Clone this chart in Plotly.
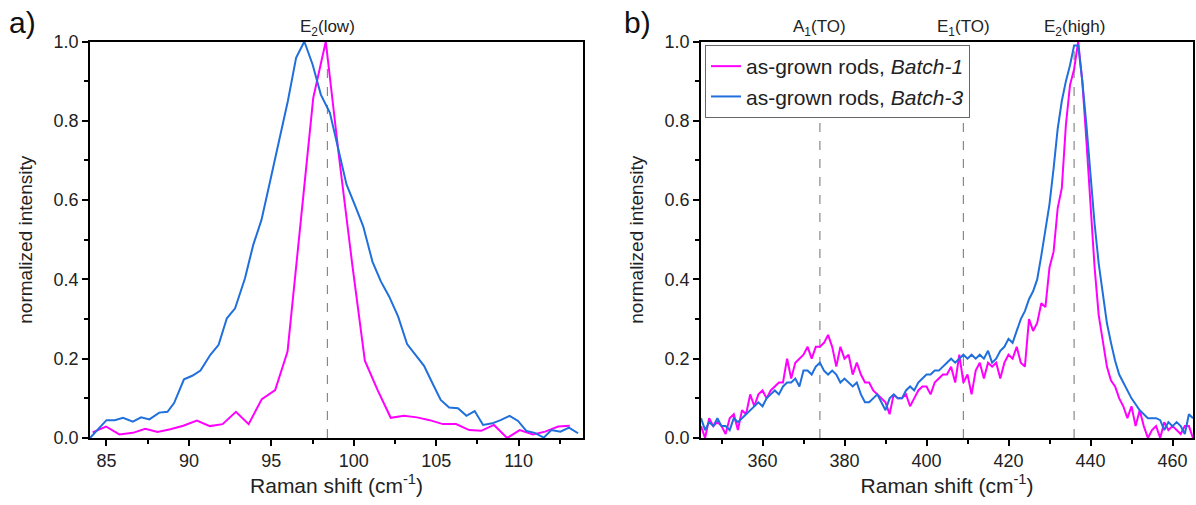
import plotly.graph_objects as go

# panel a) low-frequency E2(low) region
shift_a_b1 = [84.16, 84.97, 85.78, 86.6, 87.35, 88.1, 88.87, 89.66, 90.48, 91.27, 92.04, 92.85,
              93.62, 94.42, 95.23, 95.98, 96.79, 97.54, 98.3, 99.1, 99.9, 100.67, 101.45, 102.24,
              103.04, 103.83, 104.6, 105.4, 106.2, 107.0, 107.73, 108.5, 109.3, 110.06, 110.87,
              111.6, 112.4, 113.1]
int_a_b1 = [0.014, 0.029, 0.009, 0.013, 0.023, 0.015, 0.022, 0.031, 0.044, 0.030, 0.035, 0.066,
            0.035, 0.098, 0.121, 0.218, 0.55, 0.858, 1.0, 0.71, 0.44, 0.195, 0.12, 0.051,
            0.056, 0.052, 0.045, 0.035, 0.035, 0.020, 0.018, 0.033, 0.0, 0.020, 0.009,
            0.016, 0.029, 0.031]

shift_a_b3 = [84.0, 84.5, 85.0, 85.5, 86.0, 86.6, 87.1, 87.6, 88.2, 88.7, 89.1, 89.7, 90.2, 90.7,
              91.3, 91.8, 92.3, 92.8, 93.4, 93.9, 94.4, 94.9, 95.4, 96.0, 96.5, 97.0, 97.5, 98.0,
              98.55, 98.95, 99.56, 100.06, 100.57, 101.13, 101.64, 102.14, 102.69, 103.23, 103.76,
              104.26, 104.77, 105.27, 105.78, 106.32, 106.83, 107.33, 107.84, 108.4, 108.9, 109.45,
              109.96, 110.46, 110.97, 111.52, 111.98, 112.53, 113.05, 113.6]
int_a_b3 = [0.0, 0.023, 0.045, 0.045, 0.051, 0.041, 0.052, 0.047, 0.064, 0.066, 0.088, 0.148, 0.157,
            0.170, 0.210, 0.235, 0.302, 0.327, 0.403, 0.487, 0.550, 0.643, 0.740, 0.850, 0.959, 1.0,
            0.942, 0.866, 0.82, 0.748, 0.639, 0.588, 0.534, 0.445, 0.395, 0.357, 0.306, 0.237,
            0.21, 0.182, 0.138, 0.096, 0.077, 0.075, 0.056, 0.068, 0.033, 0.037, 0.045, 0.056,
            0.043, 0.018, 0.013, 0.001, 0.020, 0.016, 0.026, 0.012]

# panel b) 345..465 cm-1, 1 cm-1 steps
shift_b = list(range(345, 466))
int_b_b1 = [0.03, 0.00, 0.05, 0.03, 0.04, 0.03, 0.01, 0.05, 0.06, 0.02,
            0.07, 0.06, 0.11, 0.08, 0.11, 0.12, 0.10, 0.12, 0.13, 0.14,
            0.14, 0.20, 0.15, 0.19, 0.20, 0.21, 0.23, 0.20, 0.23, 0.23,
            0.24, 0.26, 0.23, 0.18, 0.23, 0.20, 0.21, 0.16, 0.19, 0.16,
            0.14, 0.14, 0.12, 0.11, 0.10, 0.09, 0.06, 0.11, 0.10, 0.10,
            0.11, 0.08, 0.10, 0.12, 0.13, 0.13, 0.11, 0.14, 0.15, 0.16,
            0.16, 0.18, 0.14, 0.21, 0.14, 0.16, 0.11, 0.17, 0.19, 0.15,
            0.19, 0.18, 0.19, 0.15, 0.19, 0.21, 0.20, 0.23, 0.19, 0.18,
            0.30, 0.27, 0.29, 0.34, 0.33, 0.43, 0.47, 0.58, 0.63, 0.79,
            0.89, 0.93, 1.00, 0.90, 0.75, 0.60, 0.43, 0.31, 0.24, 0.18,
            0.145, 0.13, 0.10, 0.08, 0.05, 0.08, 0.03, 0.07, 0.03, 0.00,
            0.02, 0.03, 0.00, 0.04, 0.02, 0.03, 0.02, 0.01, 0.03, 0.03,
            0.00]
int_b_b3 = [0.05, 0.02, 0.04, 0.03, 0.05, 0.03, 0.03, 0.02, 0.05, 0.04,
            0.05, 0.06, 0.07, 0.08, 0.09, 0.08, 0.10, 0.11, 0.12, 0.11,
            0.13, 0.14, 0.14, 0.15, 0.13, 0.17, 0.17, 0.16, 0.18, 0.19,
            0.17, 0.16, 0.17, 0.16, 0.14, 0.15, 0.14, 0.13, 0.14, 0.11,
            0.09, 0.09, 0.10, 0.11, 0.09, 0.07, 0.10, 0.11, 0.10, 0.10,
            0.12, 0.13, 0.12, 0.14, 0.15, 0.16, 0.16, 0.17, 0.17, 0.18,
            0.19, 0.20, 0.19, 0.20, 0.21, 0.20, 0.21, 0.20, 0.21, 0.20,
            0.22, 0.19, 0.20, 0.22, 0.23, 0.25, 0.24, 0.27, 0.30, 0.32,
            0.35, 0.37, 0.40, 0.46, 0.52, 0.59, 0.68, 0.78, 0.85, 0.90,
            0.94, 0.99, 0.99, 0.90, 0.79, 0.66, 0.54, 0.44, 0.36, 0.29,
            0.24, 0.195, 0.16, 0.14, 0.12, 0.10, 0.085, 0.07, 0.06, 0.05,
            0.05, 0.05, 0.045, 0.02, 0.04, 0.03, 0.04, 0.03, 0.01, 0.06,
            0.05]

modes_a = [98.4]
mode_labels_a = ['E<sub>2</sub>(low)']
modes_b = [374, 409, 436]
mode_labels_b = ['A<sub>1</sub>(TO)', 'E<sub>1</sub>(TO)', 'E<sub>2</sub>(high)']

MAGENTA = '#ff00ff'
BLUE = '#1f6fdc'
FONT = 'Liberation Sans, Arial, sans-serif'

fig = go.Figure()
fig.add_trace(go.Scatter(x=shift_a_b1, y=int_a_b1, mode='lines', line=dict(color=MAGENTA, width=2),
                         showlegend=False, xaxis='x', yaxis='y'))
fig.add_trace(go.Scatter(x=shift_a_b3, y=int_a_b3, mode='lines', line=dict(color=BLUE, width=2),
                         showlegend=False, xaxis='x', yaxis='y'))
fig.add_trace(go.Scatter(x=shift_b, y=int_b_b1, mode='lines', line=dict(color=MAGENTA, width=2),
                         name='as-grown rods, <i>Batch-1</i>', xaxis='x2', yaxis='y2'))
fig.add_trace(go.Scatter(x=shift_b, y=int_b_b3, mode='lines', line=dict(color=BLUE, width=2),
                         name='as-grown rods, <i>Batch-3</i>', xaxis='x2', yaxis='y2'))

shapes = []
annotations = []
for xref, yref, modes, labels in [('x', 'y', modes_a, mode_labels_a), ('x2', 'y2', modes_b, mode_labels_b)]:
    for m, lab in zip(modes, labels):
        shapes.append(dict(type='line', xref=xref, yref=yref, x0=m, x1=m, y0=0, y1=1,
                           line=dict(color='#888888', width=1.2, dash='dash'), layer='below'))
        annotations.append(dict(x=m, y=1, xref=xref, yref=yref, text=lab, showarrow=False,
                                yanchor='bottom', yshift=0, font=dict(size=17, color='#222')))

# panel letters
annotations.append(dict(x=22 / 1196, y=1 - 22 / 505, xref='paper', yref='paper', text='a)',
                        xanchor='center', yanchor='middle', showarrow=False,
                        font=dict(size=30, color='#111')))
annotations.append(dict(x=637 / 1196, y=1 - 22 / 505, xref='paper', yref='paper', text='b)',
                        xanchor='center', yanchor='middle', showarrow=False,
                        font=dict(size=30, color='#111')))

axis_common = dict(showline=True, linecolor='black', linewidth=1.5, mirror=True, ticks='outside',
                   ticklen=6, tickwidth=1.5, tickcolor='black', showgrid=False, zeroline=False,
                   automargin=False, tickfont=dict(size=18, color='#222'))
ydom = [(505 - 438) / 505, (505 - 41.5) / 505]

fig.update_layout(
    width=1196, height=505,
    margin=dict(l=0, r=0, t=0, b=0),
    paper_bgcolor='white', plot_bgcolor='white',
    font=dict(family=FONT, color='#222'),
    xaxis=dict(domain=[90 / 1196, 583 / 1196], range=[84, 113.9], dtick=5, tick0=85,
               minor=dict(dtick=2.5, ticks='outside', ticklen=4, tickcolor='black'),
               title=dict(text='Raman shift (cm<sup>-1</sup>)', font=dict(size=21), standoff=6),
               anchor='y', **axis_common),
    yaxis=dict(domain=ydom, range=[0, 1], dtick=0.2, tickformat='.1f',
               minor=dict(dtick=0.1, ticks='outside', ticklen=4, tickcolor='black'),
               title=dict(text='normalized intensity', font=dict(size=19), standoff=16),
               anchor='x', **axis_common),
    xaxis2=dict(domain=[701 / 1196, 1193 / 1196], range=[345, 465], dtick=20, tick0=360,
                minor=dict(dtick=10, ticks='outside', ticklen=4, tickcolor='black'),
                title=dict(text='Raman shift (cm<sup>-1</sup>)', font=dict(size=21), standoff=6),
                anchor='y2', **axis_common),
    yaxis2=dict(domain=ydom, range=[0, 1], dtick=0.2, tickformat='.1f',
                minor=dict(dtick=0.1, ticks='outside', ticklen=4, tickcolor='black'),
                title=dict(text='normalized intensity', font=dict(size=19), standoff=16),
                anchor='x2', **axis_common),
    legend=dict(x=705 / 1196, y=1 - 45 / 505, xanchor='left', yanchor='top',
                bordercolor='#666', borderwidth=1, bgcolor='white',
                font=dict(size=21, color='#222'), tracegroupgap=0),
    shapes=shapes,
    annotations=annotations,
)

fig.write_html("out.html", config={'displayModeBar': False},
               post_script="document.body.style.margin='0px';")
